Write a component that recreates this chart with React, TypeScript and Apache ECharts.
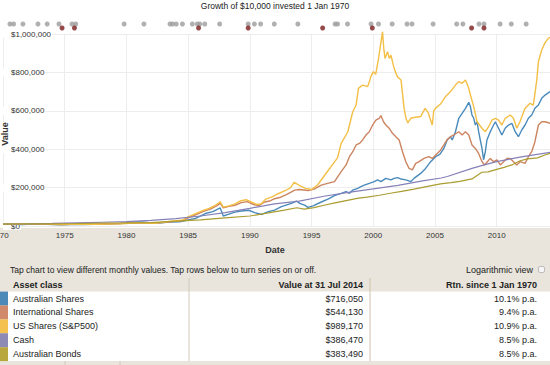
import React, { useEffect, useRef } from "react";
import * as echarts from "echarts";

// ---------- data ----------
const TITLE = "Growth of $10,000 invested 1 Jan 1970";
const SERIES_NAMES = [
  "Australian Shares",
  "International Shares",
  "US Shares (S&P500)",
  "Cash",
  "Australian Bonds",
];
const END_VALUES = ["$716,050", "$544,130", "$989,170", "$386,470", "$383,490"];
const RETURNS = ["10.1% p.a.", "9.4% p.a.", "10.9% p.a.", "8.5% p.a.", "8.5% p.a."];
const FIRST_YEAR = 1970;

// [decimal year, value in $ thousands]
const ausShares: [number, number][] = [
  [1970, 10], [1970.8, 8.5], [1971.5, 8], [1972.5, 10.5], [1973.5, 9], [1974.7, 6], [1975.5, 8],
  [1976.5, 8], [1977.5, 8.5], [1978.5, 10], [1979.5, 13], [1980.5, 20], [1981.2, 21], [1982.3, 14],
  [1983.5, 20], [1984.3, 22], [1984.9, 30], [1985.6, 40], [1986.4, 65], [1987.0, 75], [1987.6, 94],
  [1987.85, 52], [1988.3, 62], [1988.8, 72], [1989.3, 78], [1989.9, 82], [1990.4, 70], [1990.95, 60],
  [1991.5, 75], [1992.0, 83], [1992.56, 101], [1993.37, 118], [1993.77, 130], [1994.04, 118],
  [1994.44, 109], [1994.71, 97], [1995.12, 105], [1995.79, 125], [1996.33, 140], [1996.86, 158],
  [1997.4, 170], [1997.8, 179], [1998.07, 170], [1998.34, 187], [1998.74, 196], [1999.0, 205],
  [1999.28, 213], [1999.68, 222], [2000.08, 231], [2000.35, 240], [2000.62, 231], [2001.02, 248],
  [2001.43, 240], [2001.69, 248], [2001.96, 252], [2002.23, 245], [2002.64, 240], [2003.04, 231],
  [2003.3, 248], [2003.84, 274], [2004.24, 300], [2004.65, 335], [2005.05, 361], [2005.32, 370],
  [2005.45, 378], [2005.72, 404], [2005.99, 448], [2006.26, 465], [2006.4, 448], [2006.66, 491],
  [2006.93, 561], [2007.2, 587], [2007.47, 613], [2007.74, 644], [2007.87, 622], [2008.0, 578],
  [2008.14, 561], [2008.27, 526], [2008.41, 543], [2008.54, 491], [2008.67, 448], [2008.81, 404],
  [2008.94, 345], [2009.08, 387], [2009.21, 448], [2009.48, 491], [2009.75, 526], [2009.89, 543],
  [2010.15, 509], [2010.42, 474], [2010.69, 509], [2010.96, 526], [2011.23, 535], [2011.5, 491],
  [2011.76, 465], [2012.03, 500], [2012.3, 526], [2012.57, 561], [2012.84, 578], [2013.1, 613],
  [2013.38, 630], [2013.65, 665], [2013.92, 682], [2014.32, 700], [2014.58, 716.05],
];

const intlShares: [number, number][] = [
  [1970, 10], [1971, 9.5], [1972, 11], [1973, 10.5], [1974.7, 7], [1975.5, 8.5], [1976.5, 10],
  [1977.5, 10.5], [1978.5, 12], [1979.5, 13], [1980.5, 16], [1981.5, 16], [1982.5, 15], [1983.3, 20],
  [1984, 24], [1984.6, 28], [1985.0, 42], [1985.6, 58], [1986.2, 75], [1986.8, 88], [1987.3, 105],
  [1987.6, 118], [1987.85, 95], [1988.3, 102], [1988.8, 108], [1989.3, 122], [1989.8, 127],
  [1990.3, 112], [1990.7, 105], [1991.2, 125], [1991.6, 130], [1992.0, 142], [1992.5, 150],
  [1993.0, 165], [1993.64, 187], [1994.0, 190], [1994.71, 185], [1995.2, 192], [1995.79, 213],
  [1996.3, 222], [1996.86, 231], [1997.4, 283], [1997.8, 318], [1998.07, 361], [1998.34, 387],
  [1998.61, 422], [1998.88, 430], [1999.14, 448], [1999.41, 474], [1999.68, 491], [1999.95, 526],
  [2000.21, 552], [2000.48, 561], [2000.62, 575], [2000.83, 543], [2001.02, 526], [2001.29, 509],
  [2001.56, 483], [2001.83, 465], [2002.1, 448], [2002.37, 387], [2002.64, 335], [2002.9, 300],
  [2003.17, 292], [2003.44, 326], [2003.71, 335], [2004.11, 352], [2004.51, 361], [2004.78, 352],
  [2005.18, 378], [2005.45, 395], [2005.72, 422], [2005.99, 450], [2006.26, 465], [2006.53, 474],
  [2006.93, 491], [2007.2, 474], [2007.47, 491], [2007.74, 474], [2008.0, 422], [2008.27, 404],
  [2008.54, 378], [2008.81, 335], [2009.02, 318], [2009.21, 332], [2009.48, 352], [2009.75, 335],
  [2010.02, 344], [2010.29, 318], [2010.56, 335], [2010.82, 352], [2011.1, 352], [2011.36, 335],
  [2011.63, 318], [2011.9, 335], [2012.3, 326], [2012.57, 361], [2012.84, 387], [2013.1, 439],
  [2013.38, 526], [2013.65, 543], [2013.92, 543], [2014.32, 535], [2014.58, 544.13],
];

const usShares: [number, number][] = [
  [1970, 10], [1970.5, 9], [1971.2, 10.5], [1972.0, 11.5], [1972.9, 12.5], [1973.7, 11], [1974.7, 7.5],
  [1975.5, 9.5], [1976.5, 10.5], [1977.5, 9.5], [1978.5, 10.5], [1979.5, 12], [1980.5, 16], [1981.3, 16],
  [1982.3, 14], [1983.0, 20], [1983.8, 26], [1984.5, 30], [1985.0, 48], [1985.5, 62], [1986.1, 78],
  [1986.7, 92], [1987.2, 108], [1987.6, 126], [1987.85, 98], [1988.3, 105], [1988.8, 115],
  [1989.2, 130], [1989.7, 137], [1990.1, 125], [1990.6, 112], [1990.9, 115], [1991.3, 140],
  [1991.8, 152], [1992.3, 168], [1992.9, 185], [1993.3, 200], [1993.6, 228], [1994.0, 212],
  [1994.5, 196], [1995.0, 190], [1995.5, 215], [1995.9, 250], [1996.3, 285], [1996.7, 320],
  [1997.1, 355], [1997.4, 430], [1997.94, 491], [1998.34, 595], [1998.61, 630], [1998.8, 717],
  [1999.14, 734], [1999.55, 726], [1999.81, 778], [2000.0, 804], [2000.2, 790], [2000.45, 882],
  [2000.75, 1012], [2000.85, 925], [2000.95, 873], [2001.16, 908], [2001.3, 873], [2001.43, 890],
  [2001.69, 821], [2001.95, 778], [2002.25, 760], [2002.5, 613], [2002.65, 561], [2002.8, 537],
  [2003.04, 561], [2003.3, 565], [2003.84, 570], [2004.2, 613], [2004.45, 590], [2004.78, 526],
  [2004.9, 600], [2005.05, 614], [2005.45, 635], [2005.86, 675], [2006.26, 700], [2006.66, 734],
  [2006.93, 752], [2007.2, 743], [2007.47, 760], [2007.74, 717], [2007.87, 682], [2008.14, 622],
  [2008.41, 543], [2008.81, 509], [2009.08, 491], [2009.35, 517], [2009.62, 552], [2009.89, 561],
  [2010.15, 552], [2010.42, 526], [2010.69, 561], [2011.1, 578], [2011.36, 561], [2011.63, 509],
  [2011.9, 545], [2012.3, 613], [2012.71, 639], [2012.97, 630], [2013.25, 760], [2013.38, 856],
  [2013.65, 917], [2013.92, 955], [2014.18, 977], [2014.58, 989.17],
];

const cash: [number, number][] = [
  [1970, 10], [1972, 11.5], [1974, 13.5], [1976, 16.5], [1978, 19.5], [1980, 23], [1982, 29],
  [1984, 38], [1986, 52], [1988, 70], [1990, 92], [1992, 115], [1994, 130], [1996, 155], [1998, 175],
  [2000, 193], [2002, 212], [2004, 235], [2005.5, 250], [2006, 258], [2008, 300], [2009, 318],
  [2010, 335], [2012, 360], [2014.58, 386.47],
];

const bonds: [number, number][] = [
  [1970, 10], [1972, 11], [1974, 11.5], [1976, 13], [1978, 15.5], [1980, 16], [1982, 18], [1984, 25],
  [1986, 32], [1988, 42], [1990, 52], [1991.5, 68], [1992.8, 83], [1993.8, 95], [1994.4, 88],
  [1995.2, 96], [1996, 108], [1996.9, 120], [1997.8, 132], [1998.8, 145], [1999.5, 150], [2000.5, 160],
  [2001.5, 172], [2002.3, 180], [2003.3, 192], [2004.3, 205], [2005.45, 219], [2006.3, 226],
  [2007, 232], [2008.0, 245], [2008.8, 280], [2009.3, 282], [2010, 295], [2010.6, 305], [2011.3, 320],
  [2011.9, 340], [2012.5, 350], [2013.3, 355], [2013.9, 370], [2014.58, 383.49],
];

// event markers along the top (decimal years)
const GREY_EVENTS = [
  1970.8, 1971.1, 1971.85, 1973.06, 1973.8, 1974.75, 1975.8, 1976.1, 1980.0, 1981.6, 1983.7, 1983.9,
  1984.2, 1984.7, 1985.5, 1985.9, 1986.1, 1986.5, 1987.7, 1990.0, 1990.5, 1991.0, 1992.1, 1994.0,
  1997.0, 1997.2, 1998.0, 1999.9, 2000.5, 2001.6, 2002.8, 2003.2, 2004.9, 2006.8, 2007.3, 2008.6,
  2009.0, 2010.3, 2011.2, 2012.4,
];
const RED_EVENTS = [1975.0, 1976.0, 1986.0, 1990.0, 1996.0, 2000.0, 2008.0, 2009.0];

// ---------- styles ----------
const COLORS = ["#4a8abb", "#cc8560", "#f3bf45", "#8581b8", "#ab9c30"];
const SWATCH = ["#4d89b8", "#d0896a", "#f4c14f", "#8e8ab6", "#b8a73f"];
const FONT = "'Liberation Sans', Arial, Helvetica, sans-serif";
const BEIGE = "#e9e5dc";

export default function App() {
  const ref = useRef<HTMLDivElement>(null);

  useEffect(() => {
    document.body.style.margin = "0";
    const chart = echarts.init(ref.current!, undefined, { renderer: "svg" });
    const seriesData = [ausShares, intlShares, usShares, cash, bonds];

    const rowTop = 291.6;
    const rowH = 13.9;
    const graphic: any[] = [
      { type: "rect", z: 0, silent: true, shape: { x: 8, y: rowTop, width: 542, height: rowH * 5 }, style: { fill: "#ffffff" } },
      { type: "text", z: 5, x: 275, y: 6, style: { text: TITLE, font: `8.5px ${FONT}`, fill: "#222", textAlign: "center", textVerticalAlign: "middle" } },
      { type: "text", z: 5, x: -0.3, y: 235.5, style: { text: String(FIRST_YEAR), font: `8px ${FONT}`, fill: "#333", textAlign: "center", textVerticalAlign: "middle" } },
      { type: "text", z: 5, x: 5, y: 134, rotation: Math.PI / 2, style: { text: "Value", font: `bold 9px ${FONT}`, fill: "#333", textAlign: "center", textVerticalAlign: "middle" } },
      { type: "text", z: 5, x: 275, y: 250, style: { text: "Date", font: `bold 9px ${FONT}`, fill: "#333", textAlign: "center", textVerticalAlign: "middle" } },
      { type: "text", z: 5, x: 10, y: 270, style: { text: "Tap chart to view different monthly values. Tap rows below to turn series on or off.", font: `8.5px ${FONT}`, fill: "#222", textAlign: "left", textVerticalAlign: "middle" } },
      { type: "text", z: 5, x: 533, y: 270, style: { text: "Logarithmic view", font: `9px ${FONT}`, fill: "#222", textAlign: "right", textVerticalAlign: "middle" } },
      { type: "rect", z: 5, shape: { x: 538.5, y: 266.5, width: 6, height: 6, r: 1.5 }, style: { fill: "#f6f6f6", stroke: "#b0b0b0", lineWidth: 0.8 } },
      { type: "text", z: 5, x: 13, y: 285, style: { text: "Asset class", font: `bold 9px ${FONT}`, fill: "#222", textAlign: "left", textVerticalAlign: "middle" } },
      { type: "text", z: 5, x: 363, y: 285, style: { text: "Value at 31 Jul 2014", font: `bold 9px ${FONT}`, fill: "#222", textAlign: "right", textVerticalAlign: "middle" } },
      { type: "text", z: 5, x: 537, y: 285, style: { text: "Rtn. since 1 Jan 1970", font: `bold 9px ${FONT}`, fill: "#222", textAlign: "right", textVerticalAlign: "middle" } },
      { type: "line", z: 5, shape: { x1: 189, y1: 278, x2: 189, y2: rowTop + rowH * 5 }, style: { stroke: "#d2c8ba", lineWidth: 1 } },
      { type: "line", z: 5, shape: { x1: 370, y1: 278, x2: 370, y2: rowTop + rowH * 5 }, style: { stroke: "#d2c1aa", lineWidth: 1 } },
      { type: "line", z: 5, shape: { x1: 65, y1: 361, x2: 65, y2: 365 }, style: { stroke: "#d2c8ba", lineWidth: 1 } },
      { type: "line", z: 5, shape: { x1: 120, y1: 361, x2: 120, y2: 365 }, style: { stroke: "#d2c8ba", lineWidth: 1 } },
    ];
    SERIES_NAMES.forEach((name, i) => {
      const cy = rowTop + rowH * i + rowH / 2;
      graphic.push(
        { type: "rect", z: 5, shape: { x: 0, y: rowTop + rowH * i, width: 8, height: rowH }, style: { fill: SWATCH[i] } },
        { type: "text", z: 5, x: 13, y: cy, style: { text: name, font: `9px ${FONT}`, fill: "#222", textAlign: "left", textVerticalAlign: "middle" } },
        { type: "text", z: 5, x: 363, y: cy, style: { text: END_VALUES[i], font: `9px ${FONT}`, fill: "#222", textAlign: "right", textVerticalAlign: "middle" } },
        { type: "text", z: 5, x: 537, y: cy, style: { text: RETURNS[i], font: `9px ${FONT}`, fill: "#222", textAlign: "right", textVerticalAlign: "middle" } },
      );
    });

    const option: any = {
      animation: false,
      textStyle: { fontFamily: FONT },
      grid: [
        { left: 0, right: 0, top: 34, bottom: 139 },
        { left: 0, right: 0, top: 24, height: 4 },
      ],
      xAxis: [
        {
          type: "value", gridIndex: 0, min: FIRST_YEAR, max: 2014.32, interval: 5,
          axisLine: { show: false }, axisTick: { show: false },
          axisLabel: {
            fontSize: 8, color: "#333", margin: 5, showMinLabel: false, showMaxLabel: false,
            formatter: (v: number) => (Number.isInteger(v) && v !== FIRST_YEAR ? String(v) : ""),
          },
          splitLine: { show: true, lineStyle: { color: "#ededed", width: 1 } },
        },
        { type: "value", gridIndex: 1, min: FIRST_YEAR, max: 2014.32, show: false },
      ],
      yAxis: [
        {
          type: "value", gridIndex: 0, min: 0, max: 1000000, interval: 200000,
          axisLine: { show: false }, axisTick: { show: false },
          axisLabel: {
            inside: true, margin: 0, fontSize: 8, color: "#333", backgroundColor: "#fff", padding: [0, 1, 0, 8],
            formatter: (v: number) => "$" + v.toLocaleString("en-US"),
          },
          splitLine: { show: true, lineStyle: { color: "#ededed", width: 1 } },
        },
        { type: "value", gridIndex: 1, min: 0, max: 1, show: false },
      ],
      series: [
        ...seriesData.map((d, i) => ({
          type: "line", name: SERIES_NAMES[i], xAxisIndex: 0, yAxisIndex: 0,
          data: d.map(([t, v]) => [t, v * 1000]),
          symbol: "none", showSymbol: false, clip: false, z: 3,
          lineStyle: { color: COLORS[i], width: i >= 3 ? 1.2 : 1.4 },
        })),
        {
          type: "scatter", xAxisIndex: 1, yAxisIndex: 1, symbolSize: 5, clip: false,
          data: GREY_EVENTS.map((t) => [t, 1]), itemStyle: { color: "#9c9c9c" },
        },
        {
          type: "scatter", xAxisIndex: 1, yAxisIndex: 1, symbolSize: 5, clip: false,
          data: RED_EVENTS.map((t) => [t, 0]), itemStyle: { color: "#7c1c1c" },
        },
      ],
      graphic,
    };
    chart.setOption(option);
    return () => chart.dispose();
  }, []);

  return (
    <div
      ref={ref}
      style={{
        position: "fixed", left: 0, top: 0, width: 550, height: 365,
        background: `linear-gradient(to bottom, #ffffff 0px, #ffffff 228px, ${BEIGE} 228px, ${BEIGE} 365px)`,
      }}
    />
  );
}
